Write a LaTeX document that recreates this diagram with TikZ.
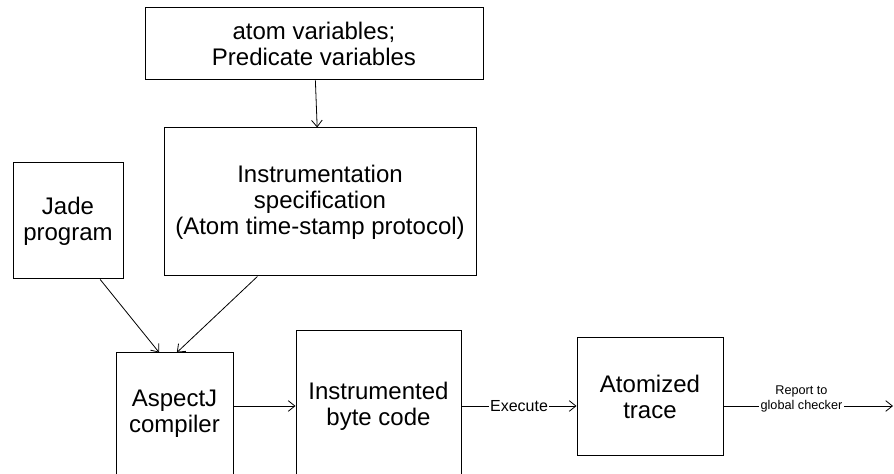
\documentclass[tikz,border=0pt]{standalone}
\usepackage{fontspec}
\setmainfont{Liberation Sans}
\usetikzlibrary{arrows.meta,positioning,calc}

\begin{document}
\begin{tikzpicture}[
    x=0.75pt, y=-0.75pt,
    box/.style={draw, line width=0.75pt, inner sep=0pt, align=center, font=\fontsize{18}{19.5}\selectfont},
    arr/.style={-{Straight Barb[length=5pt,width=8pt]}, line width=0.6pt},
    lbl/.style={fill=white, inner sep=1pt}
]
\useasboundingbox (0,0) rectangle (894,474);
\clip (0,0) rectangle (894,474);

\node[box, minimum width=253.5pt, minimum height=54pt] (vars) at (314,44) {atom variables;\\Predicate variables};
\node[box, minimum width=234pt, minimum height=111pt] (spec) at (320,202) {Instrumentation\\specification\\(Atom time-stamp protocol)};
\node[box, minimum width=82.5pt, minimum height=87pt] (jade) at (68,221) {Jade\\program};
\node[box, minimum width=87.75pt, minimum height=91.5pt] (asp) at (174.5,414) {AspectJ\\compiler};
\node[box, minimum width=123.75pt, minimum height=112.5pt] (instr) at (378.5,406) {Instrumented\\byte code};
\node[box, minimum width=109.5pt, minimum height=88.5pt] (atom) at (650,397) {Atomized\\trace};
\coordinate (out) at (893,406);

\draw[arr] (vars) -- (spec);
\draw[arr] ($(jade.south west)!0.79!(jade.south east)$) -- ($(asp.north west)!0.37!(asp.north east)$);
\draw[arr] ($(spec.south west)!0.30!(spec.south east)$) -- ($(asp.north west)!0.52!(asp.north east)$);
\draw[arr] (asp.east |- instr.west) -- (instr.west);
\draw[arr] (instr.east) -- node[lbl, font=\fontsize{12}{14}\selectfont] (exe) {Execute} (instr.east -| atom.west);
\draw[arr] (atom.east |- out) -- node[lbl, pos=0.46, font=\fontsize{9.5}{11}\selectfont] (rep) {global checker} (out);
\node[above=0pt of rep, inner sep=1pt, font=\fontsize{9.5}{11}\selectfont] (rep2) {Report to};
\end{tikzpicture}
\end{document}
